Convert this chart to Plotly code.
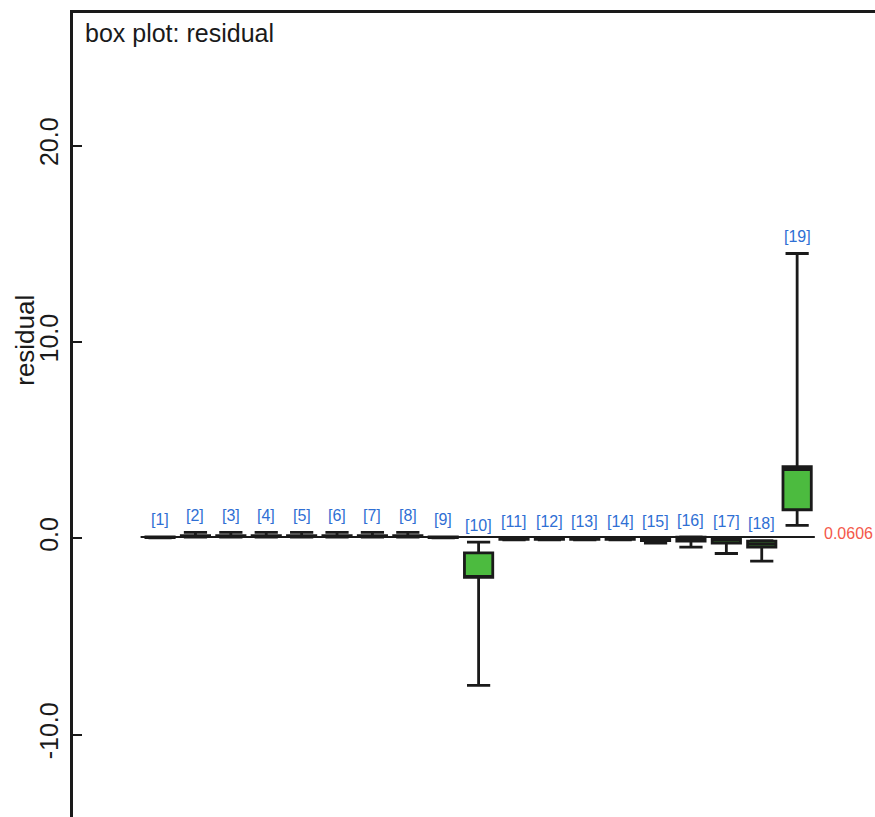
import plotly.graph_objects as go

labels = [f"[{i}]" for i in range(1, 20)]
positions = list(range(1, 20))
lower = [0.02, 0.05, 0.05, 0.05, 0.05, 0.05, 0.05, 0.05, 0.02, -7.5, -0.08, -0.08, -0.08, -0.08, -0.25, -0.45, -0.78, -1.17, 0.65]
q1 = [0.03, 0.08, 0.08, 0.08, 0.08, 0.08, 0.08, 0.08, 0.03, -2.0, -0.06, -0.06, -0.06, -0.06, -0.12, -0.15, -0.25, -0.45, 1.45]
median = [0.05, 0.1, 0.1, 0.1, 0.1, 0.1, 0.1, 0.1, 0.05, -1.95, -0.03, -0.03, -0.03, -0.03, -0.08, -0.05, -0.1, -0.3, 3.5]
q3 = [0.06, 0.13, 0.13, 0.13, 0.13, 0.13, 0.13, 0.13, 0.06, -0.75, 0.0, 0.0, 0.0, 0.0, -0.04, 0.05, 0.0, -0.15, 3.65]
upper = [0.07, 0.3, 0.3, 0.3, 0.3, 0.3, 0.3, 0.3, 0.07, -0.2, 0.01, 0.01, 0.01, 0.01, -0.02, 0.06, 0.01, -0.12, 14.5]
ref_value = 0.0606
y_ticks = [-10, 0, 10, 20]
y_tick_text = ["-10.0", "0.0", "10.0", "20.0"]

FONT = "Liberation Sans, Arial"

fig = go.Figure()
fig.add_trace(go.Box(
    x=positions, q1=q1, median=median, q3=q3,
    lowerfence=lower, upperfence=upper,
    width=0.8, whiskerwidth=0.82,
    fillcolor="#4CBB3F", line=dict(color="#1a1a1a", width=2.8),
    boxpoints=False, hoverinfo="skip", showlegend=False,
))

fig.add_shape(type="line", x0=0.45, x1=19.5, y0=ref_value, y1=ref_value,
              line=dict(color="#1a1a1a", width=2), layer="below")

annotations = []
for p, lab, u in zip(positions, labels, upper):
    annotations.append(dict(x=p, y=u, text=lab, showarrow=False, yanchor="middle",
                            yshift=17, font=dict(family=FONT, size=16, color="#2F6FD4")))
annotations.append(dict(x=19.5, y=ref_value, text=f"{ref_value:.4f}", showarrow=False,
                        xanchor="left", xshift=7, yshift=4,
                        font=dict(family=FONT, size=16, color="#F4584A")))
annotations.append(dict(xref="paper", yref="paper", x=0.012, y=1, xanchor="left", yanchor="top",
                        yshift=-4, text="box plot: residual", showarrow=False,
                        font=dict(family=FONT, size=25, color="#1a1a1a")))
annotations.append(dict(xref="paper", yref="y", x=-0.06, y=10.1, xanchor="center", yanchor="middle",
                        text="residual", showarrow=False, textangle=-90,
                        font=dict(family=FONT, size=26, color="#1a1a1a")))

fig.update_layout(
    width=875, height=817,
    margin=dict(l=73, r=0, t=13, b=0),
    plot_bgcolor="white", paper_bgcolor="white",
    annotations=annotations,
    xaxis=dict(range=[-1.46, 21.2], side="top", showline=True, linewidth=2.5, linecolor="#1a1a1a",
               showticklabels=False, ticks="", showgrid=False, zeroline=False),
    yaxis=dict(range=[-14.2, 26.75], showline=True, linewidth=2.5, linecolor="#1a1a1a",
               tickvals=y_ticks, ticktext=y_tick_text, ticks="inside", ticklen=9, tickwidth=1.5,
               tickcolor="#1a1a1a", tickangle=-90, showgrid=False, zeroline=False,
               ticklabelstandoff=2,
               tickfont=dict(family=FONT, size=25, color="#1a1a1a")),
)

fig.write_html("out.html", config={"displayModeBar": False},
               post_script="document.body.style.margin='0';document.body.style.overflow='hidden';")
